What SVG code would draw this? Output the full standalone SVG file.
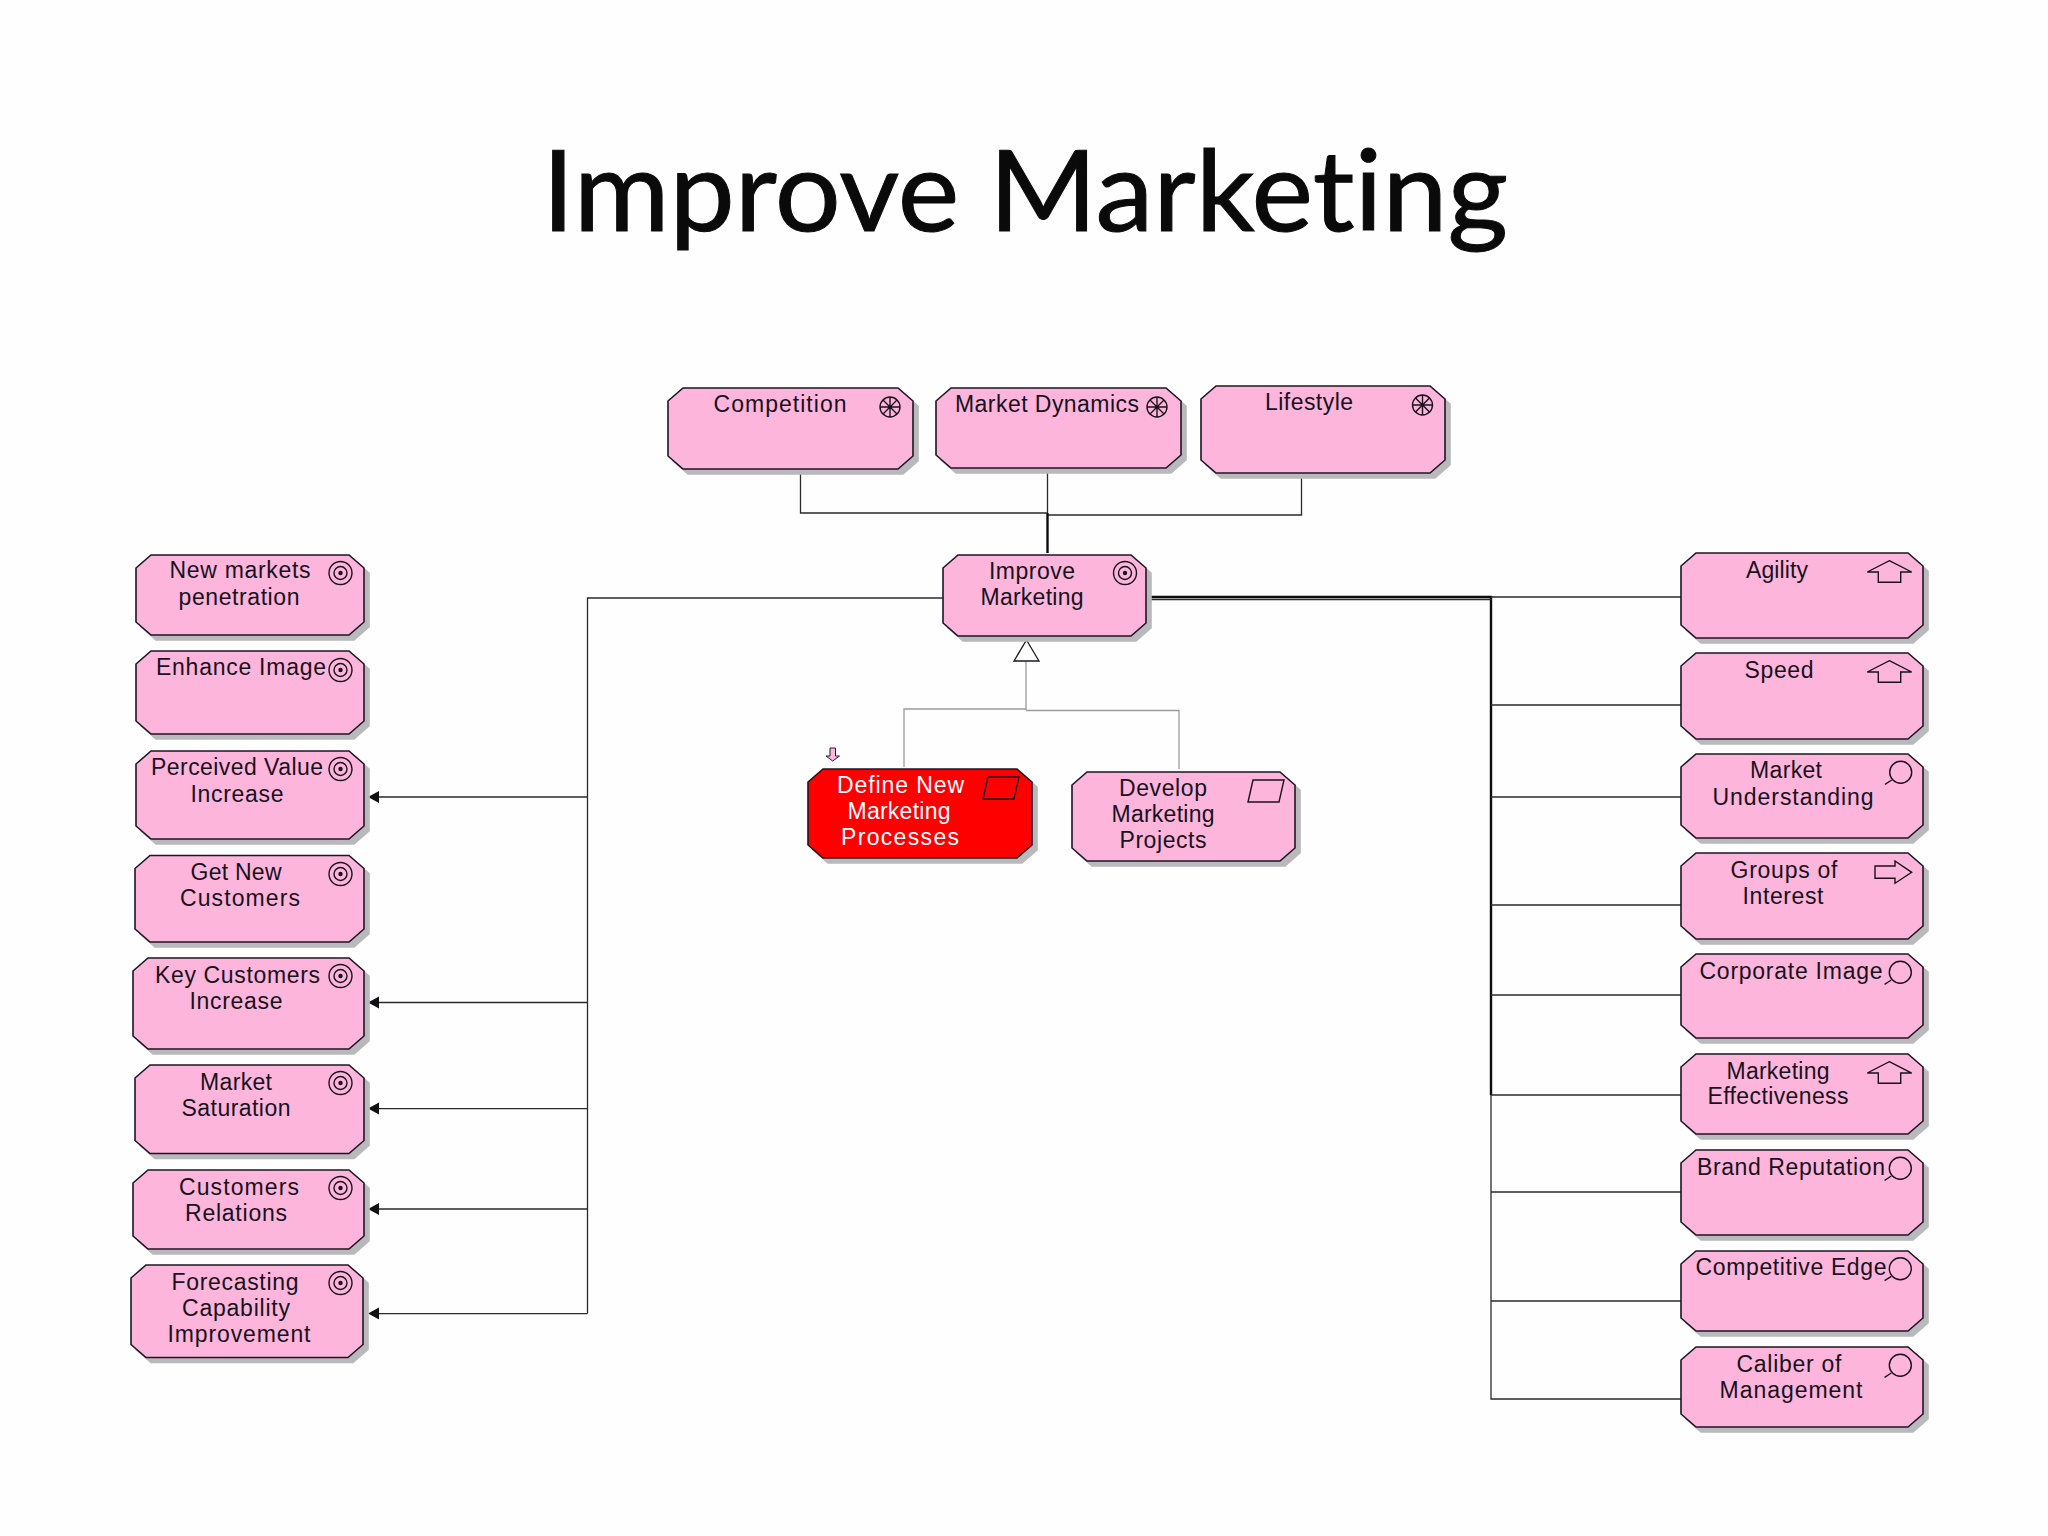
<svg xmlns="http://www.w3.org/2000/svg" xmlns:xlink="http://www.w3.org/1999/xlink" width="2048" height="1536" viewBox="0 0 2048 1536">
<style>
.bg{fill:#fefefe}
.title{font-family:"Lato","Liberation Sans",sans-serif;font-size:113px;fill:#0a0a0a;stroke:#0a0a0a;stroke-width:1;text-anchor:middle;font-variant-ligatures:none}
.n polygon{fill:#fdb5dc;stroke:#1c1622;stroke-width:1.6;filter:drop-shadow(5px 5px 0 #b9b9bb)}
.n text{font-family:"Liberation Sans",Arial,sans-serif;font-size:23px;fill:#17121c;text-anchor:middle;transform:translateY(1px)}
.r polygon{fill:#fe0000}
.r text{fill:#fff}
.ic{fill:none;stroke:#17121c;stroke-width:1.4}
.ln{fill:none;stroke:#2a2a2a;stroke-width:1.3}
.th{fill:none;stroke:#0c0c0c;stroke-width:2.4}
.gr{fill:none;stroke:#9a9a9a;stroke-width:1.3}
</style>
<defs>
<g id="goal" class="ic"><circle r="11.5"/><circle r="6.500"/><circle r="2.200" fill="#17121c" stroke="none"/></g>
<g id="driver" class="ic"><circle r="10"/><path d="M0-10V10M-10 0H10M-7-7L7 7M7-7L-7 7"/></g>
<g id="cap" class="ic"><path d="M0-11.600L22.400-.3H11.400V10H-11V-.3H-22Z"/></g>
<g id="look" class="ic"><circle r="11"/><path d="M-9 7.700L-15.700 12"/></g>
<g id="proc"><path d="M5-11H36L31 11H0Z"/></g>
</defs>
<rect class="bg" width="2048" height="1536"/>
<text class="title" x="1025" y="231" textLength="966" lengthAdjust="spacingAndGlyphs">Improve Marketing</text>

<g id="connectors">
<path class="ln" d="M800.500 473V513H1047.500M1047.500 472V513M1301.500 477V515H1048"/>
<path class="th" d="M1047.500 513V553"/>
<path class="ln" d="M943 598H587.500V1313.600M587.500 797H379M587.500 1002.500H379M587.500 1108.600H379M587.500 1209H379M587.500 1313.600H379"/>
<path d="M368 797L379 791V803ZM368 1002.500L379 996.500V1008.500ZM368 1108.600L379 1102.600V1114.600ZM368 1209L379 1203V1215ZM368 1313.600L379 1307.600V1319.600Z" fill="#111"/>
<path class="th" d="M1150 597H1491V1095"/>
<path class="ln" d="M1150 599.500H1491M1491 597H1681M1491 705H1681M1491 797H1681M1491 905H1681M1491 995H1681M1491 1301H1681M1491 1192H1681M1491 1095V1399H1681"/>
<path class="ln" stroke-width="1.800" d="M1491 1095H1681"/>
<path class="gr" d="M1026 661V710M904 767V709H1026M1026 710.500H1179V769"/>
<path d="M1026.500 640L1039 661H1014Z" fill="#fff" stroke="#1c1622" stroke-width="1.300"/>
<path d="M830 748H835.500V756H839.500L832.700 761L826 756H830Z" fill="#fdb5dc" stroke="#2a1a3a" stroke-width="1"/>
</g>

<g id="competition" class="n"><polygon points="683,388 898,388 913,401 913,456 898,469 683,469 668,456 668,401"/><text x="780" y="411" textLength="133">Competition</text><use href="#driver" x="890" y="407"/></g>
<g id="market-dynamics" class="n"><polygon points="951,388 1166,388 1181,401 1181,455 1166,468 951,468 936,455 936,401"/><text x="1047" y="411" textLength="184">Market Dynamics</text><use href="#driver" x="1157" y="407"/></g>
<g id="lifestyle" class="n"><polygon points="1216,386 1430,386 1445,399 1445,460 1430,473 1216,473 1201,460 1201,399"/><text x="1309" y="409" textLength="88">Lifestyle</text><use href="#driver" x="1422.500" y="405"/></g>
<g id="improve-marketing" class="n"><polygon points="958,555 1131,555 1146,568 1146,623 1131,636 958,636 943,623 943,568"/><text x="1032" y="578" textLength="86">Improve</text><text x="1032" y="604" textLength="103">Marketing</text><use href="#goal" x="1125" y="573"/></g>
<g id="define-new-marketing-processes" class="n r"><polygon points="823,769 1017,769 1032,782 1032,845 1017,858 823,858 808,845 808,782"/><text x="900.500" y="792" textLength="127">Define New</text><text x="899" y="818" textLength="103">Marketing</text><text x="900" y="844" textLength="118">Processes</text><use href="#proc" class="ic" x="983" y="788"/></g>
<g id="develop-marketing-projects" class="n"><polygon points="1087,772 1280,772 1295,785 1295,848 1280,861 1087,861 1072,848 1072,785"/><text x="1163" y="795" textLength="88">Develop</text><text x="1163" y="821" textLength="103">Marketing</text><text x="1163" y="847" textLength="87">Projects</text><use href="#proc" class="ic" x="1248" y="791"/></g>

<g id="new-markets-penetration" class="n"><polygon points="151,555 349,555 364,568 364,622 349,635 151,635 136,622 136,568"/><text x="240" y="577" textLength="141">New markets</text><text x="239" y="604" textLength="121">penetration</text><use href="#goal" x="340.500" y="573"/></g>
<g id="enhance-image" class="n"><polygon points="151,651 349,651 364,664 364,721 349,734 151,734 136,721 136,664"/><text x="241" y="674" textLength="170">Enhance Image</text><use href="#goal" x="340.500" y="670"/></g>
<g id="perceived-value-increase" class="n"><polygon points="151,751 349,751 364,764 364,826 349,839 151,839 136,826 136,764"/><text x="237" y="774" textLength="172">Perceived Value</text><text x="237" y="801" textLength="93">Increase</text><use href="#goal" x="340.500" y="769"/></g>
<g id="get-new-customers" class="n"><polygon points="150,855.500 349,855.500 364,868.500 364,929 349,942 150,942 135,929 135,868.500"/><text x="236" y="879" textLength="91">Get New</text><text x="240" y="905" textLength="120">Customers</text><use href="#goal" x="340.500" y="874"/></g>
<g id="key-customers-increase" class="n"><polygon points="148,958 349,958 364,971 364,1036 349,1049 148,1049 133,1036 133,971"/><text x="237.500" y="982" textLength="165">Key Customers</text><text x="236" y="1008" textLength="93">Increase</text><use href="#goal" x="340.500" y="976"/></g>
<g id="market-saturation" class="n"><polygon points="150,1065 349,1065 364,1078 364,1140.500 349,1153.500 150,1153.500 135,1140.500 135,1078"/><text x="236" y="1089" textLength="72">Market</text><text x="236" y="1115" textLength="109">Saturation</text><use href="#goal" x="340.500" y="1083"/></g>
<g id="customers-relations" class="n"><polygon points="148,1170 349,1170 364,1183 364,1236 349,1249 148,1249 133,1236 133,1183"/><text x="239" y="1194" textLength="120">Customers</text><text x="236" y="1220" textLength="102">Relations</text><use href="#goal" x="340.500" y="1188"/></g>
<g id="forecasting-capability-improvement" class="n"><polygon points="146,1265 348,1265 363,1278 363,1344.500 348,1357.500 146,1357.500 131,1344.500 131,1278"/><text x="235" y="1289" textLength="127">Forecasting</text><text x="236" y="1315" textLength="108">Capability</text><text x="239" y="1341" textLength="143">Improvement</text><use href="#goal" x="340.500" y="1283"/></g>

<g id="agility" class="n"><polygon points="1696,553 1908,553 1923,566 1923,625 1908,638 1696,638 1681,625 1681,566"/><text x="1777" y="577" textLength="62">Agility</text><use href="#cap" x="1889.300" y="572.300"/></g>
<g id="speed" class="n"><polygon points="1696,653 1908,653 1923,666 1923,726 1908,739 1696,739 1681,726 1681,666"/><text x="1779" y="677" textLength="69">Speed</text><use href="#cap" x="1889.300" y="672.300"/></g>
<g id="market-understanding" class="n"><polygon points="1696,754 1908,754 1923,767 1923,825 1908,838 1696,838 1681,825 1681,767"/><text x="1786" y="777" textLength="72">Market</text><text x="1793" y="804" textLength="161">Understanding</text><use href="#look" x="1900.700" y="772.300"/></g>
<g id="groups-of-interest" class="n"><polygon points="1696,853 1908,853 1923,866 1923,926 1908,939 1696,939 1681,926 1681,866"/><text x="1784" y="877" textLength="107">Groups of</text><text x="1783" y="903" textLength="81">Interest</text><path class="ic" d="M1875 866H1895V861L1911.700 872.300L1895 883.300V878.300H1875Z"/></g>
<g id="corporate-image" class="n"><polygon points="1696,954 1908,954 1923,967 1923,1025 1908,1038 1696,1038 1681,1025 1681,967"/><text x="1791" y="978" textLength="183">Corporate Image</text><use href="#look" x="1900.300" y="972.300"/></g>
<g id="marketing-effectiveness" class="n"><polygon points="1696,1054 1908,1054 1923,1067 1923,1121 1908,1134 1696,1134 1681,1121 1681,1067"/><text x="1778" y="1078" textLength="103">Marketing</text><text x="1778" y="1103" textLength="141">Effectiveness</text><use href="#cap" x="1889.300" y="1073.300"/></g>
<g id="brand-reputation" class="n"><polygon points="1696,1150 1908,1150 1923,1163 1923,1222 1908,1235 1696,1235 1681,1222 1681,1163"/><text x="1791" y="1174" textLength="188">Brand Reputation</text><use href="#look" x="1900.300" y="1168.300"/></g>
<g id="competitive-edge" class="n"><polygon points="1696,1251 1908,1251 1923,1264 1923,1318 1908,1331 1696,1331 1681,1318 1681,1264"/><text x="1791" y="1274" textLength="191">Competitive Edge</text><use href="#look" x="1900.300" y="1268.700"/></g>
<g id="caliber-of-management" class="n"><polygon points="1696,1347 1908,1347 1923,1360 1923,1414 1908,1427 1696,1427 1681,1414 1681,1360"/><text x="1789" y="1371" textLength="105">Caliber of</text><text x="1791" y="1397" textLength="143">Management</text><use href="#look" x="1900.300" y="1365.300"/></g>
</svg>
